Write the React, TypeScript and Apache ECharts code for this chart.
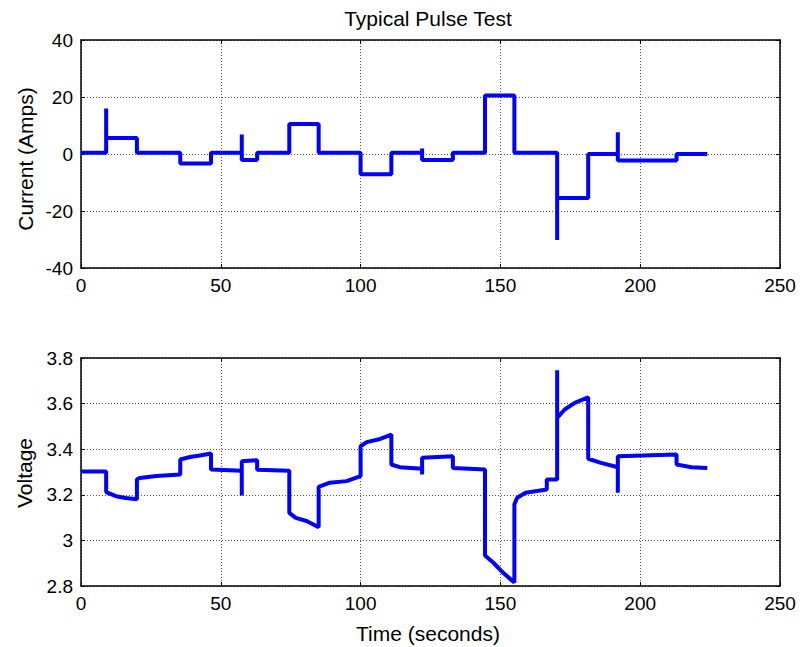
import React, { useEffect, useRef } from "react";
import * as echarts from "echarts";

const chartTitle = "Typical Pulse Test";
const currentLabel = "Current (Amps)";
const voltageLabel = "Voltage";
const timeLabel = "Time (seconds)";

const timeTicks = [0, 50, 100, 150, 200, 250];
const currentTicks = [-40, -20, 0, 20, 40];
const voltageTicks = [2.8, 3, 3.2, 3.4, 3.6, 3.8];

// Current trace (seconds, amps) – step changes
const currentTime = [
  0, 9, 9, 9, 20, 20, 35.5, 35.5, 46.5, 46.5, 57.5, 57.5, 57.5, 63, 63, 74.5, 74.5,
  85, 85, 100, 100, 111, 111, 122, 122, 122, 133, 133, 144.5, 144.5, 155, 155,
  170.3, 170.3, 170.3, 181.4, 181.4, 192, 192, 192, 213, 213, 224,
];
const currentAmps = [
  0.4, 0.4, 16, 5.6, 5.6, 0.4, 0.4, -3.3, -3.3, 0.4, 0.4, 6.8, -2.1, -2.1, 0.4, 0.4, 10.5,
  10.5, 0.4, 0.4, -7.1, -7.1, 0.4, 0.4, 1.9, -2.1, -2.1, 0.4, 0.4, 20.5, 20.5, 0.4,
  0.4, -30.2, -15.4, -15.4, 0, 0, 7.6, -2.3, -2.3, 0, 0,
];

// Voltage trace (seconds, volts)
const voltageTime = [
  0, 9,
  9, 12.5, 16, 20,
  20, 21, 27, 35.5,
  35.5, 39, 42.5, 46.5,
  46.5, 57.5,
  57.5, 57.5, 63,
  63, 74.5,
  74.5, 76.8, 80.7, 85,
  85, 89, 95, 100,
  100, 102.2, 107, 111,
  111, 114, 122,
  122, 122, 133,
  133, 144.5,
  144.5, 147.5, 151, 155,
  155, 156, 159, 166.6,
  166.6, 170.3,
  170.3, 170.3, 173, 176.6, 181.4,
  181.4, 186, 192,
  192, 192, 213,
  213, 218.3, 224,
];
const voltageVolts = [
  3.302, 3.302,
  3.212, 3.194, 3.186, 3.18,
  3.267, 3.274, 3.282, 3.289,
  3.355, 3.366, 3.372, 3.381,
  3.311, 3.305,
  3.197, 3.347, 3.352,
  3.31, 3.305,
  3.121, 3.099, 3.085, 3.058,
  3.235, 3.253, 3.26, 3.282,
  3.413, 3.431, 3.445, 3.464,
  3.333, 3.321, 3.314,
  3.289, 3.362, 3.369,
  3.318, 3.311,
  2.934, 2.902, 2.858, 2.815,
  3.158, 3.187, 3.209, 3.223,
  3.267, 3.267,
  3.746, 3.537, 3.574, 3.603, 3.628,
  3.358, 3.34, 3.321,
  3.209, 3.369, 3.377,
  3.333, 3.321, 3.318,
];

const FONT = "'Liberation Sans', Arial, sans-serif";
const FS = 19;
const LFS = 21;
const BLUE = "#0000ff";

function axisPair(kind: "x" | "y", gridIndex: number, ticks: number[], fmt?: (v: number) => string) {
  const min = ticks[0];
  const max = ticks[ticks.length - 1];
  const interval = ticks[1] - ticks[0];
  const common = {
    type: "value",
    gridIndex,
    min,
    max,
    interval,
    axisLine: { show: true, onZero: false, lineStyle: { color: "#000", width: 1.5 } },
    axisTick: { show: true, inside: true, length: 4, lineStyle: { color: "#000", width: 1 } },
  };
  const main = {
    ...common,
    position: kind === "x" ? "bottom" : "left",
    axisLabel: {
      show: true,
      color: "#000",
      fontSize: FS,
      fontFamily: FONT,
      margin: 8,
      formatter: fmt,
    },
    splitLine: { show: true, lineStyle: { color: "#555", type: [1, 2], width: 1 } },
  };
  const mirror = {
    ...common,
    position: kind === "x" ? "top" : "right",
    axisLabel: { show: false },
    splitLine: { show: false },
  };
  return [main, mirror];
}

export default function App() {
  const ref = useRef<HTMLDivElement>(null);
  useEffect(() => {
    if (!ref.current) return;
    const chart = echarts.init(ref.current, undefined, { renderer: "svg" });
    const currentData = currentTime.map((t, i) => [t, currentAmps[i]]);
    const voltageData = voltageTime.map((t, i) => [t, voltageVolts[i]]);
    const vfmt = (v: number) => String(parseFloat(v.toFixed(1)));
    const option: any = {
      animation: false,
      backgroundColor: "#fff",
      grid: [
        { left: 81, top: 40, width: 699, height: 228 },
        { left: 81, top: 358, width: 699, height: 228 },
      ],
      xAxis: [...axisPair("x", 0, timeTicks), ...axisPair("x", 1, timeTicks)],
      yAxis: [...axisPair("y", 0, currentTicks), ...axisPair("y", 1, voltageTicks, vfmt)],
      series: [
        {
          type: "line",
          xAxisIndex: 0,
          yAxisIndex: 0,
          data: currentData,
          showSymbol: false,
          lineStyle: { color: BLUE, width: 4 },
        },
        {
          type: "line",
          xAxisIndex: 2,
          yAxisIndex: 2,
          data: voltageData,
          showSymbol: false,
          lineStyle: { color: BLUE, width: 4 },
        },
      ],
      graphic: [
        {
          type: "text",
          x: 428,
          y: 18,
          style: { text: chartTitle, fill: "#000", font: `${LFS}px ${FONT}`, textAlign: "center", textVerticalAlign: "middle" },
        },
        {
          type: "text",
          x: 25,
          y: 159,
          rotation: Math.PI / 2,
          style: { text: currentLabel, fill: "#000", font: `${LFS}px ${FONT}`, textAlign: "center", textVerticalAlign: "middle" },
        },
        {
          type: "text",
          x: 24,
          y: 473,
          rotation: Math.PI / 2,
          style: { text: voltageLabel, fill: "#000", font: `${LFS}px ${FONT}`, textAlign: "center", textVerticalAlign: "middle" },
        },
        {
          type: "text",
          x: 428,
          y: 633,
          style: { text: timeLabel, fill: "#000", font: `${LFS}px ${FONT}`, textAlign: "center", textVerticalAlign: "middle" },
        },
      ],
    };
    chart.setOption(option);
    return () => chart.dispose();
  }, []);
  return (
    <div
      ref={ref}
      style={{ position: "fixed", left: 0, top: 0, width: 802, height: 647, background: "#fff" }}
    />
  );
}
